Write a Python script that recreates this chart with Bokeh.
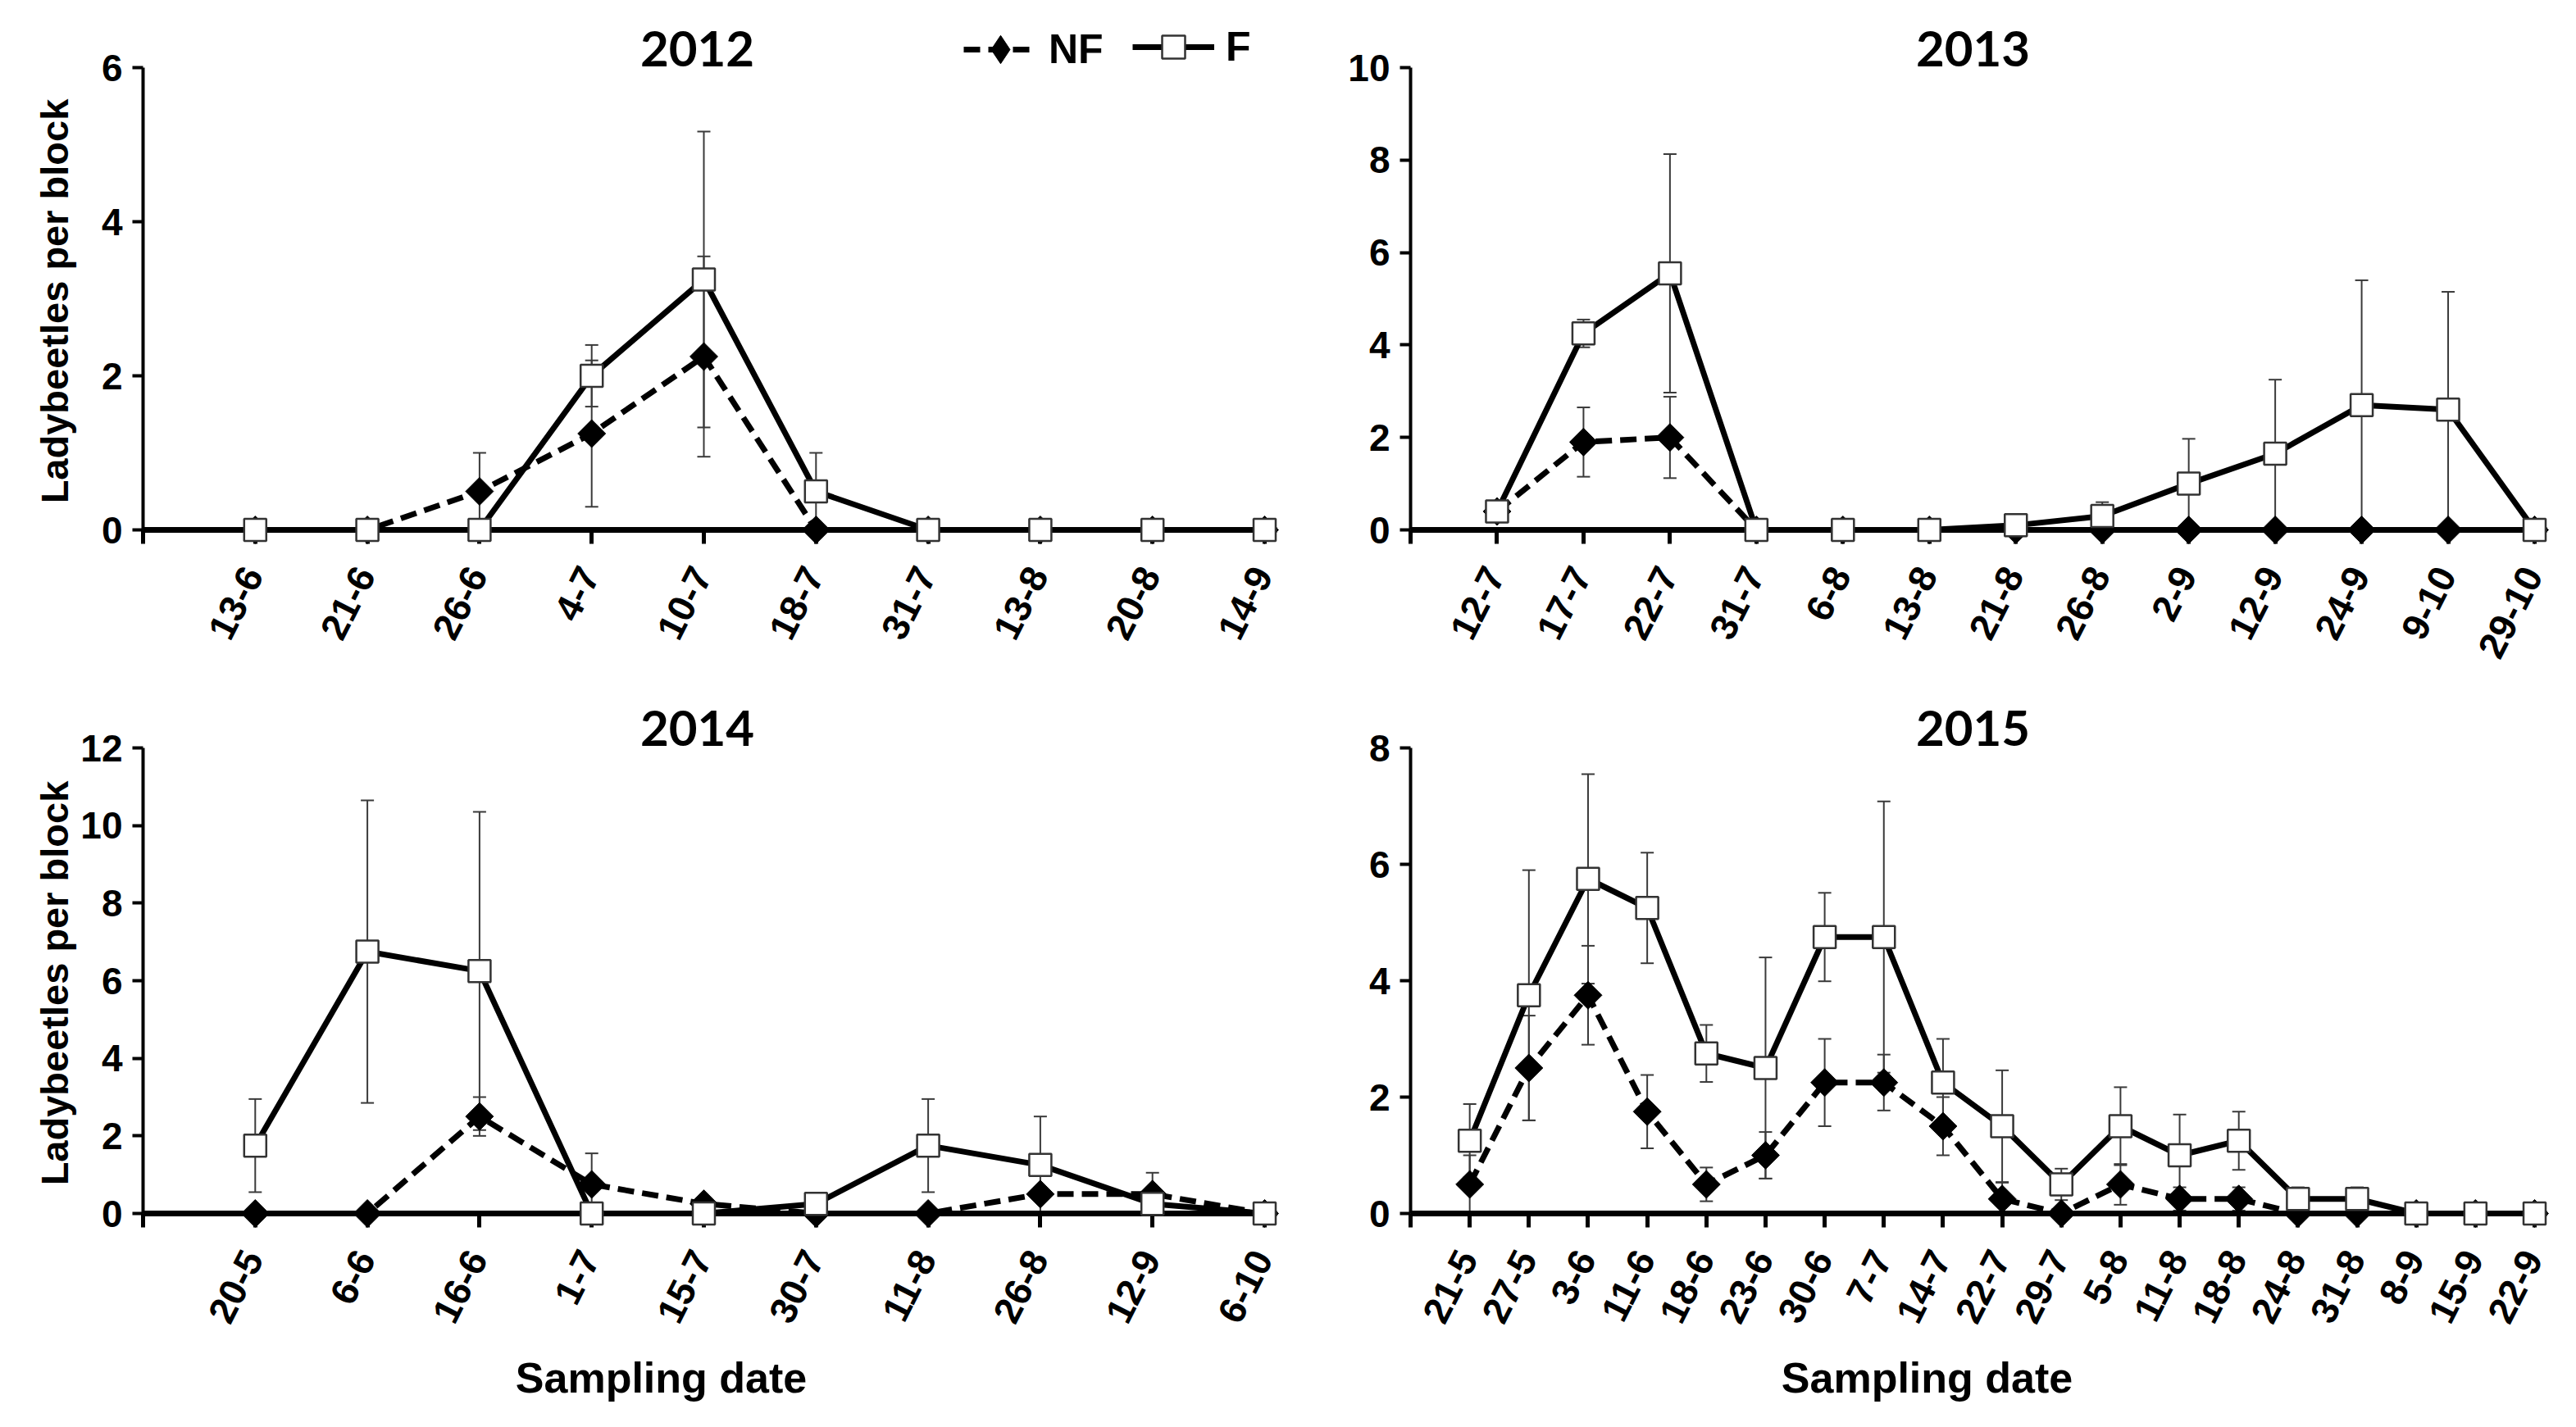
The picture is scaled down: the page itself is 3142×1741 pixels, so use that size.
import math
import numpy as np
from bokeh.plotting import figure
from bokeh.layouts import column, row
from bokeh.models import (ColumnDataSource, Range1d, FixedTicker, Whisker, TeeHead,
                          Legend, LegendItem, Label)
from bokeh.core.properties import value
from bokeh.embed import file_html
from bokeh.resources import INLINE

# ---------------- data ----------------
dates_2012 = ["13-6", "21-6", "26-6", "4-7", "10-7", "18-7", "31-7", "13-8", "20-8", "14-9"]
nf_2012 = [0, 0, 0.5, 1.25, 2.25, 0, 0, 0, 0, 0]
nf_err_2012 = [0, 0, 0.5, 0.95, 1.3, 0, 0, 0, 0, 0]
f_2012 = [0, 0, 0, 2.0, 3.25, 0.5, 0, 0, 0, 0]
f_err_2012 = [0, 0, 0, 0.4, 1.92, 0.5, 0, 0, 0, 0]

dates_2013 = ["12-7", "17-7", "22-7", "31-7", "6-8", "13-8", "21-8", "26-8", "2-9", "12-9",
              "24-9", "9-10", "29-10"]
nf_2013 = [0.4, 1.9, 2.0, 0, 0, 0, 0, 0, 0, 0, 0, 0, 0]
nf_err_2013 = [0.1, 0.75, 0.88, 0, 0, 0, 0, 0, 0, 0, 0, 0, 0]
f_2013 = [0.4, 4.25, 5.55, 0, 0, 0, 0.1, 0.3, 1.0, 1.65, 2.7, 2.6, 0]
f_err_2013 = [0.1, 0.3, 2.58, 0, 0, 0, 0.1, 0.3, 0.97, 1.6, 2.7, 2.55, 0]

dates_2014 = ["20-5", "6-6", "16-6", "1-7", "15-7", "30-7", "11-8", "26-8", "12-9", "6-10"]
nf_2014 = [0, 0, 2.5, 0.75, 0.25, 0, 0, 0.5, 0.5, 0]
nf_err_2014 = [0, 0, 0.5, 0.8, 0.1, 0, 0, 0.1, 0.55, 0]
f_2014 = [1.75, 6.75, 6.25, 0, 0, 0.25, 1.75, 1.25, 0.25, 0]
f_err_2014 = [1.2, 3.9, 4.1, 0, 0, 0.1, 1.2, 1.25, 0.1, 0]

dates_2015 = ["21-5", "27-5", "3-6", "11-6", "18-6", "23-6", "30-6", "7-7", "14-7", "22-7",
              "29-7", "5-8", "11-8", "18-8", "24-8", "31-8", "8-9", "15-9", "22-9"]
nf_2015 = [0.5, 2.5, 3.75, 1.75, 0.5, 1.0, 2.25, 2.25, 1.5, 0.25, 0, 0.5, 0.25, 0.25, 0, 0, 0, 0, 0]
nf_err_2015 = [0.5, 0.9, 0.85, 0.63, 0.29, 0.4, 0.75, 0.48, 0.5, 0.28, 0, 0.35, 0.2, 0.2, 0, 0, 0, 0, 0]
f_2015 = [1.25, 3.75, 5.75, 5.25, 2.75, 2.5, 4.75, 4.75, 2.25, 1.5, 0.5, 1.5, 1.0, 1.25, 0.25, 0.25, 0, 0, 0]
f_err_2015 = [0.63, 2.15, 1.8, 0.95, 0.49, 1.9, 0.76, 2.33, 0.75, 0.96, 0.27, 0.67, 0.7, 0.5, 0.2, 0.2, 0, 0, 0]

y_max = {"2012": 6, "2013": 10, "2014": 12, "2015": 8}

# ---------------- styling / geometry (page pixels) ----------------
FONT = "Liberation Sans"
TITLE_FONT = "Lato"
FIG_W = 1563
ERR_COLOR = "#3a3a3a"


def make_panel(year, dates, nf, nf_err, f, f_err, left_side, top_row):
    n = len(dates)
    if left_side:
        x0_pg, xn_pg, fig_left = 182, 1550, 8
    else:
        x0_pg, xn_pg, fig_left = 1728, 3099, 1571
    if top_row:
        fig_top, fig_bot, ytop_pg, y0_pg, title_base = 8, 838, 90, 654, 67
    else:
        fig_top, fig_bot, ytop_pg, y0_pg, title_base = 838, 1733, 920, 1488, 896
    fig_right = fig_left + FIG_W
    ymax = y_max[year]
    ppx = (xn_pg - x0_pg) / n
    ppu = (y0_pg - ytop_pg) / ymax

    p = figure(width=FIG_W, height=fig_bot - fig_top,
               min_border_left=0, min_border_right=0, min_border_top=0, min_border_bottom=0,
               x_range=Range1d(-(x0_pg - fig_left) / ppx, n + (fig_right - xn_pg) / ppx),
               y_range=Range1d(-(fig_bot - y0_pg) / ppu, ymax + (ytop_pg - fig_top) / ppu),
               output_backend="svg", toolbar_location=None)
    p.outline_line_color = None
    p.grid.visible = False
    p.background_fill_color = "white"
    p.border_fill_color = "white"

    x = list(range(1, n + 1))
    nf_a = np.array(nf, dtype=float)
    f_a = np.array(f, dtype=float)
    nfe = np.array(nf_err, dtype=float)
    fe = np.array(f_err, dtype=float)

    src_nf = ColumnDataSource(dict(x=x, y=nf_a, upper=nf_a + nfe, lower=np.maximum(nf_a - nfe, 0)))
    src_f = ColumnDataSource(dict(x=x, y=f_a, upper=f_a + fe, lower=np.maximum(f_a - fe, 0)))

    for src in (src_nf, src_f):
        w = Whisker(base="x", upper="upper", lower="lower", source=src,
                    line_color=ERR_COLOR, line_width=2, level="underlay",
                    upper_head=TeeHead(size=16, line_color=ERR_COLOR, line_width=2),
                    lower_head=TeeHead(size=16, line_color=ERR_COLOR, line_width=2))
        p.add_layout(w)

    l_nf = p.line("x", "y", source=src_nf, line_color="black", line_width=7, line_dash="20 10")
    l_f = p.line("x", "y", source=src_f, line_color="black", line_width=7)
    # small diamond (hidden under the rotated square) -> gives the legend its diamond glyph
    d_nf = p.scatter("x", "y", source=src_nf, marker="diamond", size=18,
                     fill_color="black", line_color="black", line_width=1)
    p.scatter("x", "y", source=src_nf, marker="square", angle=math.pi / 4, size=24,
              fill_color="black", line_color="black", line_width=1, level="overlay")
    m_f = p.scatter("x", "y", source=src_f, marker="square", size=27,
                    fill_color="white", line_color="#333333", line_width=2.5, level="overlay")

    # x axis drawn at y = 0 (labels drawn as text below)
    xa = p.xaxis[0]
    xa.fixed_location = 0
    xa.ticker = FixedTicker(ticks=list(range(0, n + 1)))
    xa.major_label_overrides = {i: "" for i in range(0, n + 1)}
    xa.axis_line_width = 7
    xa.axis_line_color = "black"
    xa.major_tick_line_width = 5
    xa.major_tick_line_color = "black"
    xa.major_tick_out = 17
    xa.major_tick_in = 0
    xa.minor_tick_line_color = None
    xa.bounds = (0, n + 15 / ppx)

    lab_src = ColumnDataSource(dict(x=x, y=[-48 / ppu] * n, text=dates))
    p.text("x", "y", text="text", source=lab_src, angle=math.radians(63),
           x_offset=-3, text_align="right", text_baseline="middle",
           text_font=value(FONT), text_font_style="bold", text_font_size=value("46px"),
           text_color="black")

    # y axis drawn at x = 0
    ya = p.yaxis[0]
    ya.fixed_location = 0
    ya.ticker = FixedTicker(ticks=list(range(0, ymax + 1, 2)))
    ya.bounds = (0, ymax)
    ya.major_label_text_font = FONT
    ya.major_label_text_font_style = "bold"
    ya.major_label_text_font_size = "46px"
    ya.major_label_text_color = "black"
    ya.major_label_standoff = 12
    ya.axis_line_width = 4
    ya.axis_line_color = "black"
    ya.major_tick_line_width = 4
    ya.major_tick_line_color = "black"
    ya.major_tick_out = 13
    ya.major_tick_in = 0
    ya.minor_tick_line_color = None

    if left_side:
        p.add_layout(Label(x=74 - fig_left, y=fig_bot - (ytop_pg + y0_pg) / 2 - 3,
                           x_units="screen", y_units="screen", angle=math.pi / 2,
                           text="Ladybeetles per block", text_align="center",
                           text_baseline="alphabetic", text_font=FONT, text_font_style="bold",
                           text_font_size="47px", text_color="black"))

    title_cx = 858 if left_side else 2414
    p.add_layout(Label(x=title_cx - fig_left, y=fig_bot - title_base,
                       x_units="screen", y_units="screen",
                       text=year, text_align="center", text_baseline="alphabetic",
                       text_font=TITLE_FONT, text_font_style="bold", text_font_size="60px",
                       text_color="black"))

    if not top_row:
        sd_cx = 814 if left_side else 2358
        p.add_layout(Label(x=sd_cx - fig_left, y=fig_bot - 1688,
                           x_units="screen", y_units="screen", text="Sampling date",
                           text_align="center", text_baseline="alphabetic", text_font=FONT,
                           text_font_style="bold", text_font_size="52px", text_color="black"))

    return p, (l_nf, d_nf, l_f, m_f), fig_left, fig_bot


p1, r1, fl1, fb1 = make_panel("2012", dates_2012, nf_2012, nf_err_2012, f_2012, f_err_2012, True, True)
p2, _, _, _ = make_panel("2013", dates_2013, nf_2013, nf_err_2013, f_2013, f_err_2013, False, True)
p3, _, _, _ = make_panel("2014", dates_2014, nf_2014, nf_err_2014, f_2014, f_err_2014, True, False)
p4, _, _, _ = make_panel("2015", dates_2015, nf_2015, nf_err_2015, f_2015, f_err_2015, False, False)

legend_style = dict(orientation="horizontal", padding=0, margin=0, border_line_color=None,
                    background_fill_alpha=0, label_text_font=FONT, label_text_font_style="bold",
                    label_text_font_size="50px", label_text_color="black", label_standoff=14)
leg_nf = Legend(items=[LegendItem(label="NF", renderers=[r1[0], r1[1]])],
                location=(1183 - fl1, fb1 - 111), glyph_width=90, glyph_height=86, **legend_style)
leg_f = Legend(items=[LegendItem(label="F", renderers=[r1[2], r1[3]])],
               location=(1389 - fl1, fb1 - 100), glyph_width=100, glyph_height=70, **legend_style)
p1.add_layout(leg_nf, "center")
p1.add_layout(leg_f, "center")

layout = column(row(p1, p2), row(p3, p4))
open("out.html", "w").write(file_html(layout, INLINE))
